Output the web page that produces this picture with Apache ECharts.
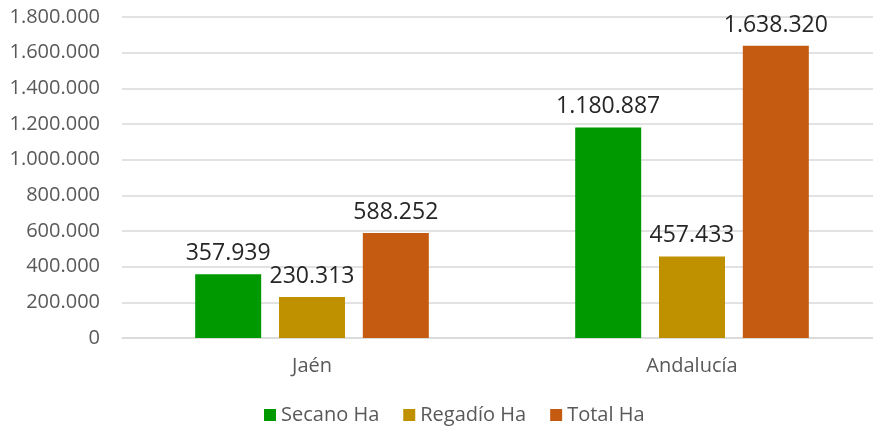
<!DOCTYPE html>
<html>
<head>
<meta charset="utf-8">
<script src="https://cdn.jsdelivr.net/npm/echarts@6/dist/echarts.min.js"></script>
<style>
  html, body { margin: 0; padding: 0; background: #fff; }
  #chart { width: 873px; height: 429px; }
</style>
</head>
<body>
<div id="chart"></div>
<script>
// datos
const categories = ['Jaén', 'Andalucía']
const seriesNames = ['Secano Ha', 'Regadío Ha', 'Total Ha']
const secano = [357939, 1180887]
const regadio = [230313, 457433]
const total = [588252, 1638320]
const colors = ['#009900', '#BF9000', '#C55A11']

// formato español: 1.800.000
function fmt(v) {
  return String(v).replace(/\B(?=(\d{3})+(?!\d))/g, '.')
}

const chart = echarts.init(document.getElementById('chart'))
const values = [secano, regadio, total]

chart.setOption({
  animation: false,
  textStyle: { fontFamily: 'Open Sans' },
  legend: {
    bottom: -1,
    left: 259,
    itemWidth: 12,
    itemHeight: 12,
    itemGap: 24,
    icon: 'rect',
    textStyle: { fontSize: 20, color: '#595959', fontFamily: 'Open Sans' },
    data: seriesNames
  },
  grid: {
    left: 122,
    right: -9,
    top: 17,
    bottom: 91,
    outerBoundsMode: 'none'
  },
  xAxis: {
    type: 'category',
    data: categories,
    axisLine: { lineStyle: { color: '#d9d9d9', width: 1.5 } },
    axisTick: { show: false },
    axisLabel: { fontSize: 20, color: '#595959', margin: 18 }
  },
  yAxis: {
    type: 'value',
    min: 0,
    max: 1800000,
    interval: 200000,
    axisLine: { show: false },
    axisTick: { show: false },
    splitLine: { lineStyle: { color: '#d9d9d9', width: 1.5 } },
    axisLabel: {
      fontSize: 20,
      color: '#595959',
      margin: 22,
      formatter: (v) => fmt(v)
    }
  },
  series: seriesNames.map((name, i) => ({
    name: name,
    type: 'bar',
    data: values[i],
    barWidth: 66,
    barGap: '27%',
    itemStyle: { color: colors[i] },
    label: {
      show: true,
      position: 'top',
      distance: 9,
      fontSize: 23,
      color: '#262626',
      formatter: (p) => fmt(p.value)
    }
  }))
})
</script>
</body>
</html>
